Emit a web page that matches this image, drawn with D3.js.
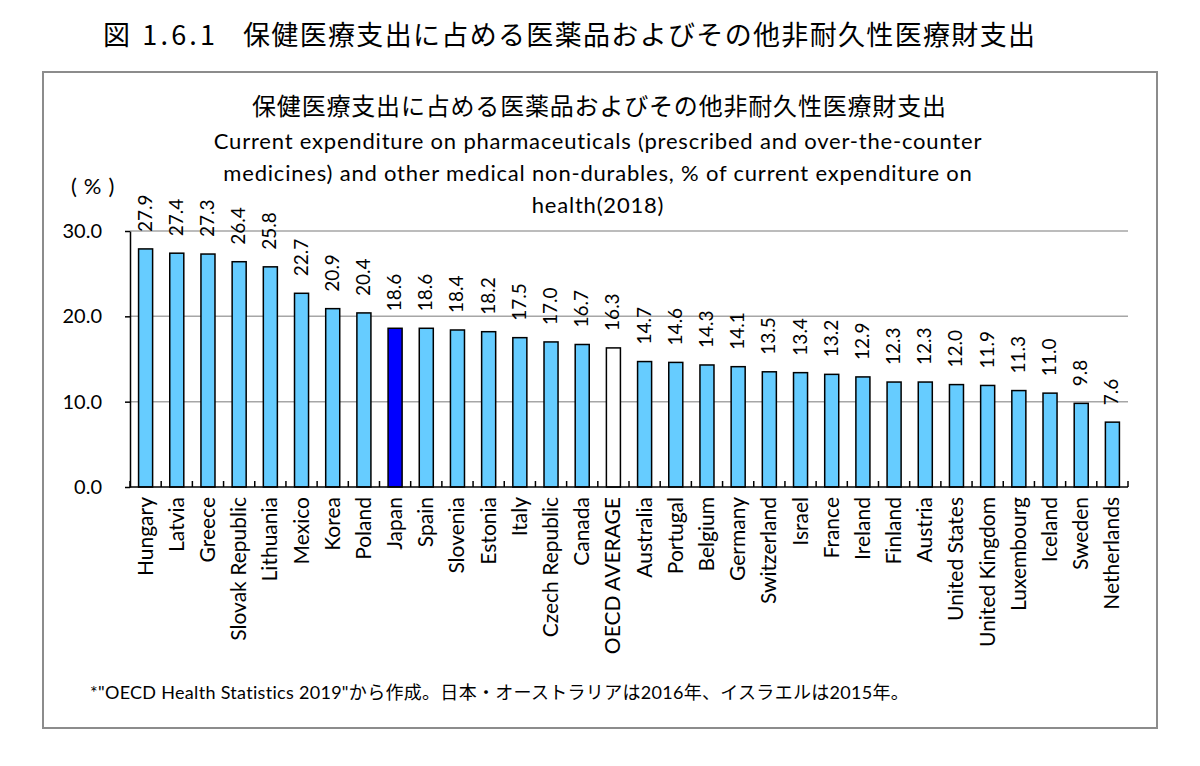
<!DOCTYPE html>
<html>
  <head>
    <meta charset="UTF-8" />
    <title>保健医療支出に占める医薬品およびその他非耐久性医療財支出</title>
    <style>
      body { margin: 0; background: #fff; }
      svg { display: block; }
    </style>
  </head>
  <body>
    <svg width="1200" height="766"></svg>

    <script src="https://d3js.org/d3.v7.min.js"></script>
    <script>
      // データ
      const countries = [
        "Hungary", "Latvia", "Greece", "Slovak Republic", "Lithuania", "Mexico",
        "Korea", "Poland", "Japan", "Spain", "Slovenia", "Estonia", "Italy",
        "Czech Republic", "Canada", "OECD AVERAGE", "Australia", "Portugal",
        "Belgium", "Germany", "Switzerland", "Israel", "France", "Ireland",
        "Finland", "Austria", "United States", "United Kingdom", "Luxembourg",
        "Iceland", "Sweden", "Netherlands"
      ];
      const values = [
        27.9, 27.4, 27.3, 26.4, 25.8, 22.7, 20.9, 20.4, 18.6, 18.6, 18.4, 18.2,
        17.5, 17.0, 16.7, 16.3, 14.7, 14.6, 14.3, 14.1, 13.5, 13.4, 13.2, 12.9,
        12.3, 12.3, 12.0, 11.9, 11.3, 11.0, 9.8, 7.6
      ];
      const yTicks = [0, 10, 20, 30];

      const figTitle = "保健医療支出に占める医薬品およびその他非耐久性医療財支出";
      const subTitle = [
        "Current expenditure on pharmaceuticals (prescribed and over-the-counter",
        "medicines) and other medical non-durables, % of current expenditure on",
        "health(2018)"
      ];
      const note = "*\"OECD Health Statistics 2019\"から作成。日本・オーストラリアは2016年、イスラエルは2015年。";

      // 定数
      const JP = "'Noto Sans CJK JP', sans-serif";
      const EN = "Lato, 'Noto Sans CJK JP', sans-serif";
      const PLOT = { left: 130, right: 1128, top: 231, bottom: 487 };

      const colorOf = (c) =>
        c === "Japan" ? "#0000ff" : c === "OECD AVERAGE" ? "#ffffff" : "#66ccff";

      const svg = d3.select("svg");

      // 上部タイトル
      svg.append("text")
        .attr("x", 103).attr("y", 45)
        .attr("font-family", JP).attr("font-size", 27)
        .attr("textLength", 112).attr("lengthAdjust", "spacing")
        .text("図 1.6.1");
      svg.append("text")
        .attr("x", 243).attr("y", 45)
        .attr("font-family", JP).attr("font-size", 27)
        .attr("textLength", 792).attr("lengthAdjust", "spacing")
        .text(figTitle);

      // 枠
      svg.append("rect")
        .attr("x", 43).attr("y", 72).attr("width", 1114).attr("height", 656)
        .attr("fill", "none").attr("stroke", "#8c8c8c").attr("stroke-width", 2);

      // グラフタイトル
      svg.append("text")
        .attr("x", 252).attr("y", 115)
        .attr("font-family", JP).attr("font-size", 24)
        .attr("textLength", 694).attr("lengthAdjust", "spacing")
        .text(figTitle);

      svg.selectAll(".sub")
        .data(subTitle)
        .enter()
        .append("text")
        .attr("class", "sub")
        .attr("x", 598)
        .attr("y", (d, i) => 149 + i * 32)
        .attr("text-anchor", "middle")
        .attr("font-family", EN).attr("font-size", 22)
        .attr("letter-spacing", 0.8)
        .text((d) => d);

      // 比例尺
      const x = d3.scaleBand()
        .domain(countries)
        .range([PLOT.left, PLOT.right])
        .paddingInner(0.55)
        .paddingOuter(0.275);
      const y = d3.scaleLinear().domain([0, 30]).range([PLOT.bottom, PLOT.top]);
      const step = x.step();
      const cx = (c) => x(c) + x.bandwidth() / 2;

      // グリッド線
      svg.append("g")
        .selectAll("line")
        .data(yTicks.filter((d) => d > 0))
        .enter()
        .append("line")
        .attr("x1", PLOT.left).attr("x2", PLOT.right)
        .attr("y1", (d) => y(d)).attr("y2", (d) => y(d))
        .attr("stroke", "#a6a6a6").attr("stroke-width", 1.5);

      // Y軸
      const yAxis = svg.append("g")
        .attr("transform", `translate(${PLOT.left},0)`)
        .call(d3.axisLeft(y).tickValues(yTicks).tickFormat(d3.format(".1f"))
          .tickSize(5).tickPadding(23).tickSizeOuter(0));
      yAxis.select(".domain").attr("stroke", "#000").attr("stroke-width", 1.5);
      yAxis.selectAll(".tick line").attr("stroke", "#000").attr("stroke-width", 1.5);
      yAxis.selectAll(".tick text")
        .attr("font-family", EN).attr("font-size", 20).attr("fill", "#000");

      svg.append("text")
        .attr("x", 71).attr("y", 194)
        .attr("font-family", EN).attr("font-size", 22)
        .attr("letter-spacing", 7)
        .text("(%)");

      // 棒
      svg.append("g")
        .selectAll("rect")
        .data(countries)
        .enter()
        .append("rect")
        .attr("x", (d) => x(d))
        .attr("width", x.bandwidth())
        .attr("y", (d, i) => y(values[i]))
        .attr("height", (d, i) => y(0) - y(values[i]))
        .attr("fill", (d) => colorOf(d))
        .attr("stroke", "#000")
        .attr("stroke-width", 1.5);

      // X軸
      const bounds = countries.map((c) => x(c) - (step - x.bandwidth()) / 2);
      bounds.push(PLOT.right);
      svg.append("line")
        .attr("x1", PLOT.left).attr("x2", PLOT.right)
        .attr("y1", y(0)).attr("y2", y(0))
        .attr("stroke", "#000").attr("stroke-width", 1.5);
      svg.append("g")
        .selectAll("line")
        .data(bounds)
        .enter()
        .append("line")
        .attr("x1", (d) => d).attr("x2", (d) => d)
        .attr("y1", y(0) - 6).attr("y2", y(0))
        .attr("stroke", "#000").attr("stroke-width", 1.5);

      // 国名
      svg.append("g")
        .selectAll("text")
        .data(countries)
        .enter()
        .append("text")
        .attr("transform", (d) => `translate(${cx(d) + 7},${y(0) + 10}) rotate(-90)`)
        .attr("text-anchor", "end")
        .attr("font-family", EN).attr("font-size", 21)
        .text((d) => d);

      // 数値ラベル
      svg.append("g")
        .selectAll("text")
        .data(countries)
        .enter()
        .append("text")
        .attr("transform", (d, i) =>
          `translate(${cx(d) + 6},${y(values[i]) - 17}) rotate(-90)`)
        .attr("font-family", EN).attr("font-size", 19)
        .text((d, i) => values[i].toFixed(1));

      // 注
      svg.append("text")
        .attr("x", 90).attr("y", 699)
        .attr("font-family", EN).attr("font-size", 18)
        .attr("letter-spacing", 0.3)
        .text(note);
    </script>
  </body>
</html>
